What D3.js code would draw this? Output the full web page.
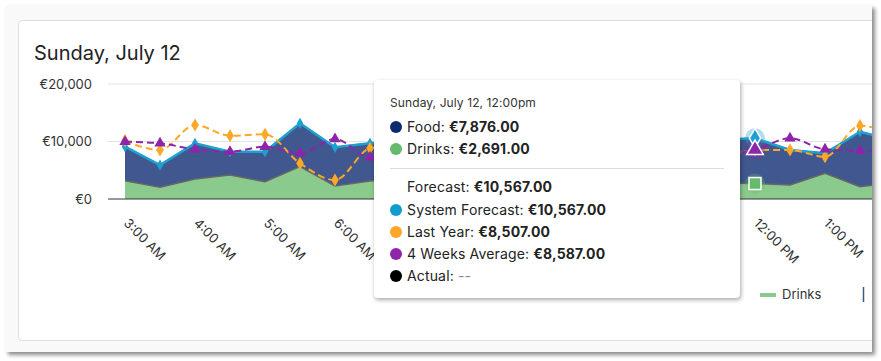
<!DOCTYPE html>
<html>
<head>
<meta charset="utf-8">
<script src="https://cdn.jsdelivr.net/npm/d3@7"></script>
<style>
  body { margin: 0; background: #fff; font-family: Inter, "Noto Sans", sans-serif; }
  #outer { position: absolute; left: 5px; top: 5px; width: 867px; height: 347px; background: #f9f9f9;
           box-shadow: 3px 3px 4px rgba(0,0,0,0.45); overflow: hidden; }
  #card { position: absolute; left: 13px; top: 15px; width: 900px; height: 319px; background: #fff;
          border: 1px solid #dedede; border-radius: 4px; overflow: hidden; }
  #card svg { position: absolute; left: -19px; top: -21px; }
  #tip { position: absolute; left: 374px; top: 80px; width: 366px; height: 218px; background: #fff;
         border-radius: 4px; box-shadow: 1px 2px 4px rgba(0,0,0,0.35); color: #222; }
  #tip .head { position: absolute; left: 16px; top: 15px; font-size: 12px; color: #333; letter-spacing: 0.1px; }
  #tip .row { position: absolute; left: 16px; font-size: 14px; white-space: nowrap; letter-spacing: 0.15px; }
  #tip .dot { display: inline-block; width: 12px; height: 12px; border-radius: 6px; margin-right: 5px; vertical-align: -1px; }
  #tip b { font-weight: 700; }
  #tip .sep { position: absolute; left: 16px; top: 88px; width: 334px; height: 1px; background: #ddd; }
</style>
</head>
<body>
<div id="outer"><div id="card"></div></div>
<div id="tip"></div>
<script>
// half-hour slots starting 3:00 AM
var hourLabels = ["3:00 AM", "4:00 AM", "5:00 AM", "6:00 AM", "7:00 AM", "8:00 AM", "9:00 AM",
                  "10:00 AM", "11:00 AM", "12:00 PM", "1:00 PM"]
var drinks = [3180, 2030, 3480, 4170, 3000, 5620, 2260, 3130, 3400, 3900, 4200, 3800,
              4500, 3600, 3300, 3000, 2900, 2770, 2691, 2430, 4460, 2150, 2800]
var food = [5920, 3870, 6200, 4060, 5230, 7540, 6730, 6550, 6500, 6600, 7000, 7000,
            7000, 7300, 7300, 7300, 7500, 7530, 7876, 6090, 3490, 9550, 7400]
var systemForecast = [9100, 5900, 9680, 8230, 8230, 13160, 8990, 9680, 9900, 10500, 11200, 10800,
                      11500, 10900, 10600, 10300, 10400, 10300, 10567, 8520, 7950, 11700, 10200]
var lastYear = [10140, 8520, 12870, 11010, 11250, 6200, 3300, 8810, 9500, 10200, 9800, 10600,
                11000, 9900, 10100, 9600, 9000, 7400, 8507, 8520, 7360, 12750, 11000]
var fourWeeks = [9970, 9680, 8640, 8230, 9100, 7950, 10430, 7250, 8200, 8900, 9300, 9000,
                 9400, 9100, 8800, 8600, 8400, 7800, 8587, 10550, 8640, 8400, 8500]
var yTicks = [0, 10000, 20000]
var hoverIndex = 18

var euro = function (v) { return "€" + d3.format(",")(v) }
var euro2 = function (v) { return "€" + d3.format(",.2f")(v) }

var svg = d3.select("#card").append("svg").attr("width", 920).attr("height", 360)

var x = d3.scaleLinear().domain([0, drinks.length - 1]).range([125, 125 + 35 * (drinks.length - 1)])
var y = d3.scaleLinear().domain([0, 20000]).range([199, 84])

svg.append("text").attr("x", 34).attr("y", 60).text("Sunday, July 12")
  .style("font-size", "20px").style("fill", "#222")

// grid + y labels
svg.selectAll(".grid").data(yTicks.filter(function (d) { return d > 0 })).enter().append("line")
  .attr("x1", 108).attr("x2", 920).attr("y1", function (d) { return y(d) }).attr("y2", function (d) { return y(d) })
  .style("stroke", "#e3e3e3").style("stroke-width", 1)
svg.selectAll(".ylab").data(yTicks).enter().append("text")
  .attr("x", 92).attr("y", function (d) { return y(d) + 4.5 }).attr("text-anchor", "end")
  .text(euro).style("font-size", "13px").style("fill", "#333")

// stacked areas
var idx = d3.range(drinks.length)
var drinksArea = d3.area().x(function (i) { return x(i) }).y0(y(0)).y1(function (i) { return y(drinks[i]) })
var foodArea = d3.area().x(function (i) { return x(i) })
  .y0(function (i) { return y(drinks[i]) }).y1(function (i) { return y(drinks[i] + food[i]) })
svg.append("path").datum(idx).attr("d", drinksArea).style("fill", "#8aca8c")
svg.append("path").datum(idx).attr("d", foodArea).style("fill", "#41578f")
svg.append("path").datum(idx).attr("d", d3.line().x(function (i) { return x(i) }).y(function (i) { return y(drinks[i]) }))
  .style("fill", "none").style("stroke", "#666").style("stroke-width", 1.5)
svg.append("path").datum(idx).attr("d", d3.line().x(function (i) { return x(i) }).y(function (i) { return y(drinks[i] + food[i]) }))
  .style("fill", "none").style("stroke", "#666").style("stroke-width", 1.5)

// x axis baseline
svg.append("line").attr("x1", 108).attr("x2", 920).attr("y1", y(0)).attr("y2", y(0))
  .style("stroke", "#333").style("stroke-width", 1)

// system forecast line
svg.append("path").datum(systemForecast).attr("d", d3.line().x(function (d, i) { return x(i) }).y(function (d) { return y(d) }))
  .style("fill", "none").style("stroke", "#1ea0d0").style("stroke-width", 2.5)
svg.selectAll(".sfm").data(systemForecast).enter().append("path")
  .attr("transform", function (d, i) { return "translate(" + x(i) + "," + y(d) + ")" })
  .attr("d", d3.symbol(d3.symbolDiamond, 36)).style("fill", "#1ea0d0")

// last year
var spline = d3.line().curve(d3.curveMonotoneX).x(function (d, i) { return x(i) }).y(function (d) { return y(d) })
svg.append("path").datum(lastYear).attr("d", spline)
  .style("fill", "none").style("stroke", "#ffa726").style("stroke-width", 2).style("stroke-dasharray", "7,4")
svg.selectAll(".lym").data(lastYear).enter().append("path")
  .attr("transform", function (d, i) { return "translate(" + x(i) + "," + y(d) + ")" })
  .attr("d", d3.symbol(d3.symbolDiamond, 50)).style("fill", "#ffa726")

// 4 weeks average
svg.append("path").datum(fourWeeks).attr("d", spline)
  .style("fill", "none").style("stroke", "#8e24aa").style("stroke-width", 2).style("stroke-dasharray", "7,4")
svg.selectAll(".fwm").data(fourWeeks).enter().append("path")
  .attr("transform", function (d, i) { return "translate(" + x(i) + "," + y(d) + ")" })
  .attr("d", d3.symbol(d3.symbolTriangle, 55)).style("fill", "#8e24aa")

// hover state
var hx = x(hoverIndex)
svg.append("circle").attr("cx", hx).attr("cy", y(systemForecast[hoverIndex])).attr("r", 10).style("fill", "#1ea0d0").style("opacity", 0.35)
svg.append("circle").attr("cx", hx).attr("cy", y(fourWeeks[hoverIndex])).attr("r", 10).style("fill", "#8e24aa").style("opacity", 0.3)
svg.append("circle").attr("cx", hx).attr("cy", y(drinks[hoverIndex])).attr("r", 10).style("fill", "#66bb6a").style("opacity", 0.3)
svg.append("path").attr("transform", "translate(" + hx + "," + y(systemForecast[hoverIndex]) + ")")
  .attr("d", d3.symbol(d3.symbolDiamond, 110)).style("fill", "#1ea0d0").style("stroke", "#fff").style("stroke-width", 1.5)
svg.append("path").attr("transform", "translate(" + hx + "," + y(fourWeeks[hoverIndex]) + ")")
  .attr("d", d3.symbol(d3.symbolTriangle, 120)).style("fill", "#8e24aa").style("stroke", "#fff").style("stroke-width", 1.5)
svg.append("rect").attr("x", hx - 6).attr("y", y(drinks[hoverIndex]) - 6).attr("width", 12).attr("height", 12)
  .style("fill", "#66bb6a").style("stroke", "#fff").style("stroke-width", 1.5)

// x labels
svg.selectAll(".xlab").data(hourLabels).enter().append("text")
  .attr("transform", function (d, i) { return "translate(" + (x(i * 2) - 2) + ",224) rotate(45)" })
  .text(function (d) { return d }).style("font-size", "13px").style("fill", "#333")

// legend (mostly hidden behind tooltip)
svg.append("rect").attr("x", 600).attr("y", 293).attr("width", 16).attr("height", 4).style("fill", "#41578f")
svg.append("text").attr("x", 622).attr("y", 297).text("Food").style("font-size", "13px").style("fill", "#333")
svg.append("rect").attr("x", 760).attr("y", 293).attr("width", 16).attr("height", 4).style("fill", "#8aca8c")
svg.append("text").attr("x", 782).attr("y", 299).text("Drinks").style("font-size", "13px").style("fill", "#333")
svg.append("line").attr("x1", 863.5).attr("x2", 863.5).attr("y1", 287).attr("y2", 302).style("stroke", "#3a5a85").style("stroke-width", 1.5)

// tooltip
var tip = d3.select("#tip")
tip.append("div").attr("class", "head").text("Sunday, July 12, 12:00pm")
var rows = [
  { name: "Food", color: "#0d2a6e", value: euro2(food[hoverIndex]), top: 38 },
  { name: "Drinks", color: "#66bb6a", value: euro2(drinks[hoverIndex]), top: 60 },
  { name: "Forecast", color: null, value: euro2(food[hoverIndex] + drinks[hoverIndex]), top: 98 },
  { name: "System Forecast", color: "#119ccd", value: euro2(systemForecast[hoverIndex]), top: 121 },
  { name: "Last Year", color: "#ffa726", value: euro2(lastYear[hoverIndex]), top: 143 },
  { name: "4 Weeks Average", color: "#8e24aa", value: euro2(fourWeeks[hoverIndex]), top: 165 },
  { name: "Actual", color: "#000", value: null, top: 187 }
]
tip.append("div").attr("class", "sep")
rows.forEach(function (r) {
  var row = tip.append("div").attr("class", "row").style("top", r.top + "px")
  if (r.color) row.append("span").attr("class", "dot").style("background", r.color)
  else row.style("left", "33px")
  row.append("span").text(r.name + ": ")
  if (r.value) row.append("b").text(r.value)
  else row.append("span").style("color", "#888").text("--")
})
</script>
</body>
</html>
